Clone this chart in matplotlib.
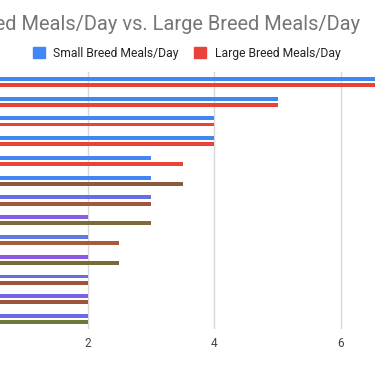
import matplotlib.pyplot as plt
import numpy as np

plt.rcParams["font.family"] = ["Roboto", "DejaVu Sans"]

rows = [f"Row {i}" for i in range(1, 14)]
small_breed = [7, 5, 4, 4, 3, 3, 3, 2, 2, 2, 2, 2, 2]
large_breed = [7, 5, 4, 4, 3.5, 3.5, 3, 3, 2.5, 2.5, 2, 2, 2]
x_ticks = [2, 4, 6]

# colours as they appear in the (colour-shifted) screenshot
small_colors = ["#4285f4"] * 6 + ["#6a6ee6", "#8a5ce6", "#5f78e6", "#8a5ae6",
                                  "#6a6ae6", "#7a62e6", "#6a6ae6"]
large_colors = ["#e8433a"] * 5 + ["#8b5a3a", "#a5553a", "#7c6a38", "#a85a3a",
                                  "#7a6a3a", "#a0553a", "#a0553a", "#6b7a3a"]

W, H = 375, 366
fig = plt.figure(figsize=(W / 100, H / 100), dpi=100)

# plot area is cropped on the left and right in the reference
px_per_unit = 63.3
x0_px = -39
xmax = 8
ax = fig.add_axes([x0_px / W, 37 / H, xmax * px_per_unit / W, (294 - 37) / H])

y = np.arange(len(rows))
bar_h = 0.2
off = 0.155
ax.barh(y - off, small_breed, height=bar_h, color=small_colors, zorder=3)
ax.barh(y + off, large_breed, height=bar_h, color=large_colors, zorder=3)

ax.set_xlim(0, xmax)
ax.set_ylim(len(rows) - 0.5, -0.5)
ax.set_xticks(x_ticks)
ax.set_xticklabels([str(t) for t in x_ticks], fontsize=8.5, color="#444444")
ax.set_yticks([])
ax.tick_params(axis="x", length=0, pad=6)
ax.grid(axis="x", color="#d9d9d9", linewidth=1, zorder=0)
for s in ax.spines.values():
    s.set_visible(False)

# title is cut off on the left in the reference
fig.text(360 / W, 1 - 24 / H, "Small Breed Meals/Day vs. Large Breed Meals/Day",
         ha="right", va="center", fontsize=14.4, color="#757575")

# legend
fig.patches.append(plt.Rectangle((33 / W, 1 - 58 / H), 12 / W, 11 / H,
                                 transform=fig.transFigure, color="#4285f4"))
fig.text(53 / W, 1 - 53 / H, "Small Breed Meals/Day", ha="left", va="center",
         fontsize=8.7, color="#222222")
fig.patches.append(plt.Rectangle((194 / W, 1 - 58 / H), 12 / W, 11 / H,
                                 transform=fig.transFigure, color="#e8433a"))
fig.text(215 / W, 1 - 53 / H, "Large Breed Meals/Day", ha="left", va="center",
         fontsize=8.7, color="#222222")

fig.savefig("out.png", dpi=100)
